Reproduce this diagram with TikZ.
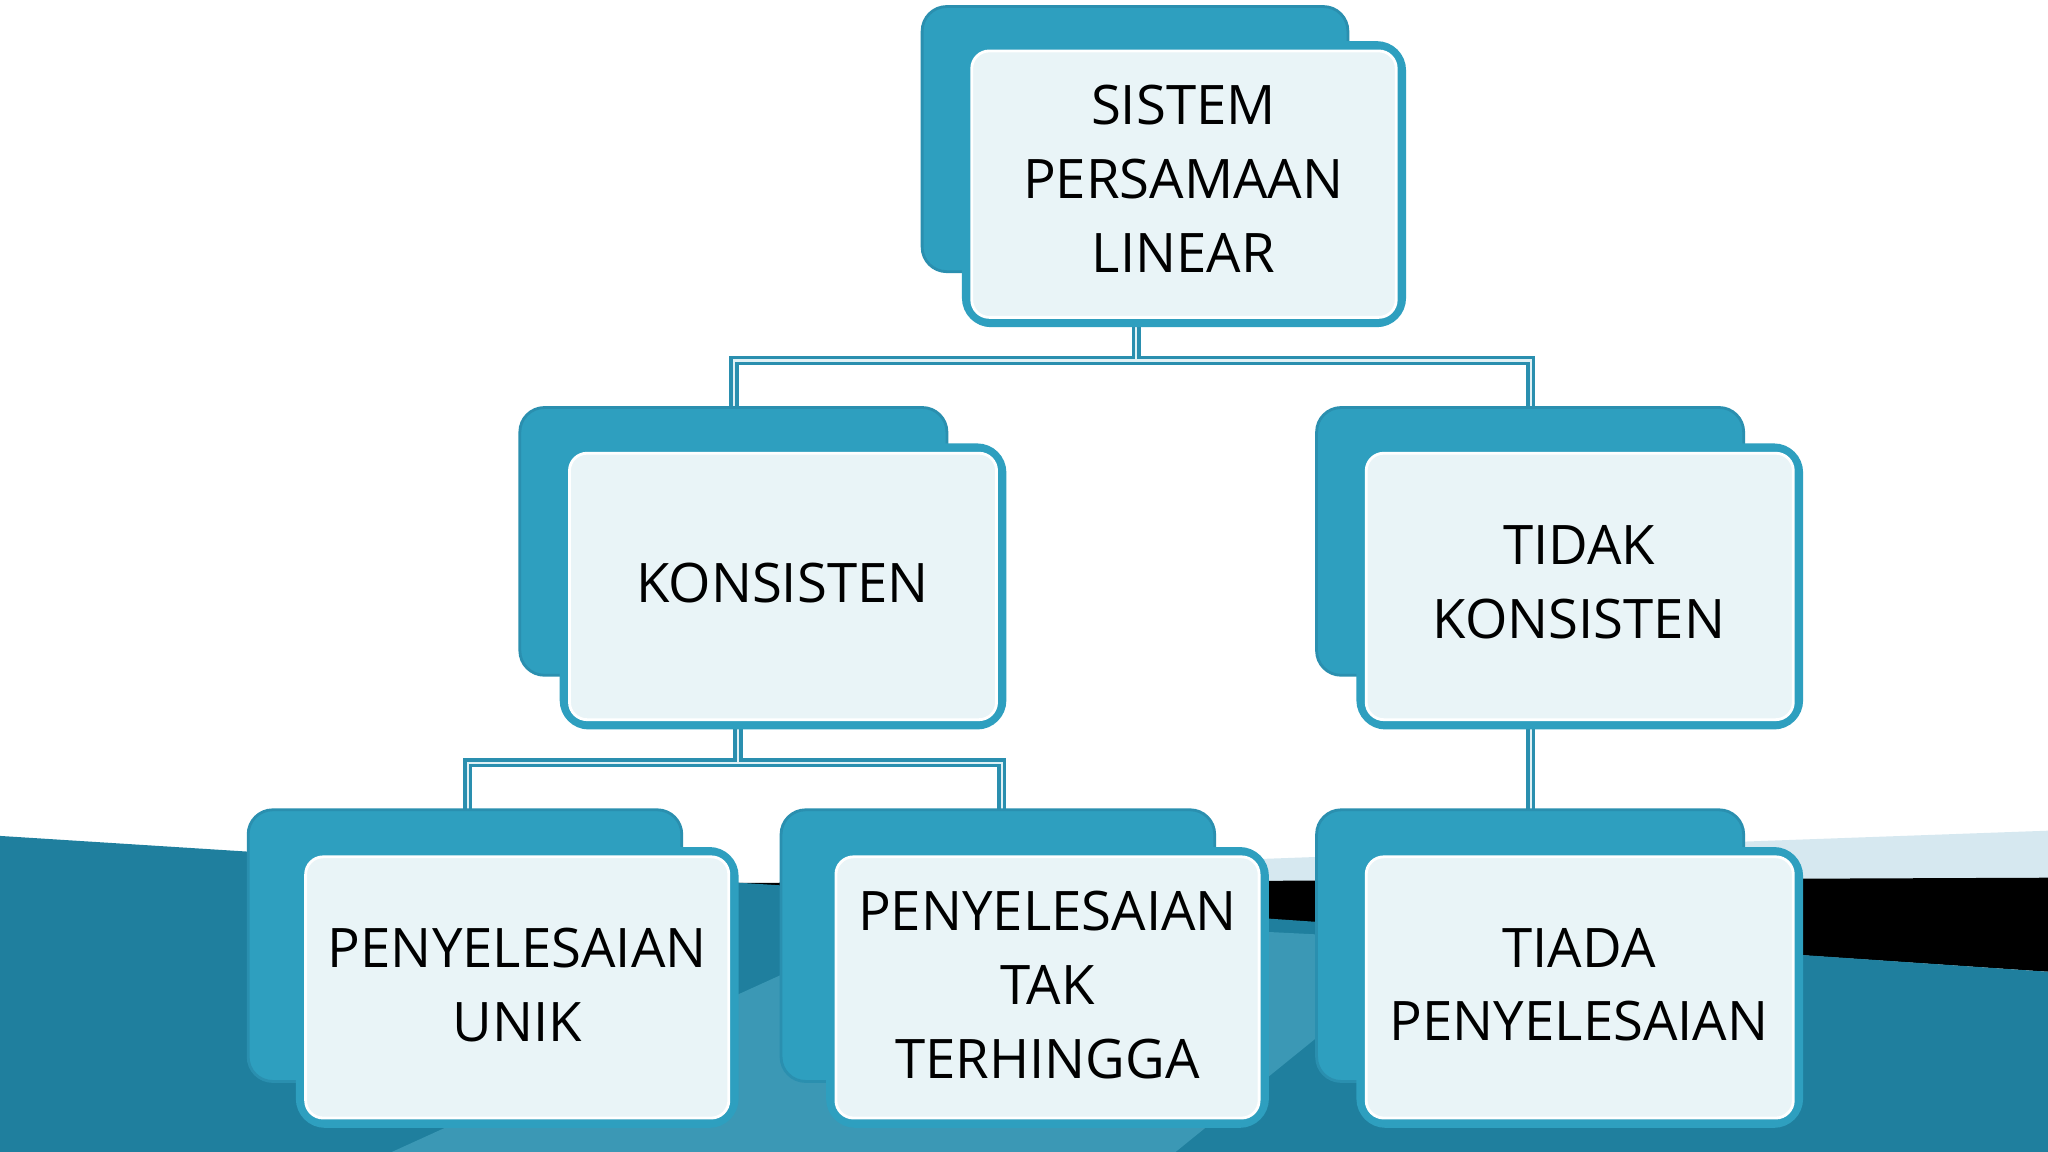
\documentclass[tikz,border=0pt]{standalone}
\usepackage{fontspec}
\setmainfont{Open Sans}
\definecolor{teal1}{HTML}{2E9FBF}
\definecolor{teal2}{HTML}{2A8FAF}
\definecolor{front}{HTML}{E9F4F7}
\definecolor{bgteal}{HTML}{1F7F9E}
\definecolor{bglight}{HTML}{D6E8F0}
\tikzset{
 backbox/.style={fill=teal1,draw=teal2,line width=0.8pt,rounded corners=7pt},
 frontbox/.style={fill=front,draw=teal1,line width=2.6pt,rounded corners=7pt},
 frontinner/.style={draw=white,line width=0.8pt,rounded corners=5pt},
 lbl/.style={align=center,font=\fontsize{15.5}{21}\selectfont,text=black},
 conn/.style={draw=teal2,line width=2.6pt},
 conninner/.style={draw=white!85!teal1,line width=0.6pt},
}
\newcommand{\mybox}[9]{% name, bx1,by1,bx2,by2, fx1,fy1,fx2,fy2
 \fill[backbox] (#2,#3) rectangle (#4,#5);
 \path[frontbox] (#6,#7) rectangle (#8,#9);
 \path[frontinner] (#6+4,#7+4) rectangle (#8-4,#9-4);
 \coordinate (#1) at ($(#6,#7)!0.5!(#8,#9)$);
}
\usetikzlibrary{calc}
\begin{document}
\begin{tikzpicture}[x=0.013061cm,y=-0.013061cm]
\useasboundingbox (0,0) rectangle (1568,882);
\fill[white] (0,0) rectangle (1568,882);
% background
\fill[bglight] (900,660) -- (1568,636) -- (1568,675) -- (960,675) -- cycle;
\fill[black] (560,676) -- (1568,672) -- (1568,744) -- (1000,706) -- cycle;
\fill[bgteal] (0,640) -- (600,678) -- (1568,744) -- (1568,882) -- (0,882) -- cycle;
\fill[teal1!80!white,opacity=0.5] (300,882) -- (700,700) -- (1100,720) -- (900,882) -- cycle;
% connectors
\coordinate (c1) at (870,247); \coordinate (c1m) at (870,276);
\coordinate (l1) at (562,276); \coordinate (l1b) at (562,312);
\coordinate (r1) at (1172,276); \coordinate (r1b) at (1172,312);
\coordinate (c2) at (565,555); \coordinate (c2m) at (565,584);
\coordinate (l2) at (358,584); \coordinate (l2b) at (358,620);
\coordinate (r2) at (767,584); \coordinate (r2b) at (767,620);
\coordinate (c3) at (1172,555); \coordinate (c3b) at (1172,620);
\foreach \s in {conn,conninner}{
 \draw[\s] (c1) -- (c1m);
 \draw[\s] (l1b) -- (l1) -- (r1) -- (r1b);
 \draw[\s] (c2) -- (c2m);
 \draw[\s] (l2b) -- (l2) -- (r2) -- (r2b);
 \draw[\s] (c3) -- (c3b);
}
\mybox{top}{706}{5}{1032}{208}{740}{35}{1073}{247}
\mybox{kon}{398}{312}{725}{517}{432}{343}{767}{555}
\mybox{tkon}{1008}{312}{1335}{517}{1042}{343}{1377}{555}
\mybox{unik}{190}{620}{522}{828}{230}{652}{562}{860}
\mybox{tak}{598}{620}{930}{828}{636}{652}{968}{860}
\mybox{tiada}{1008}{620}{1335}{828}{1042}{652}{1377}{860}
\node[lbl] (ttop) at (906,137) {SISTEM\\PERSAMAAN\\LINEAR};
\node[lbl] (tkon) at (599,446) {KONSISTEN};
\node[lbl] (ttkon) at (1209,446) {TIDAK\\KONSISTEN};
\node[lbl] (tunik) at (396,754) {PENYELESAIAN\\UNIK};
\node[lbl] (ttak) at (802,754) {PENYELESAIAN\\TAK\\TERHINGGA};
\node[lbl] (ttiada) at (1209,754) {TIADA\\PENYELESAIAN};
\end{tikzpicture}
\end{document}
